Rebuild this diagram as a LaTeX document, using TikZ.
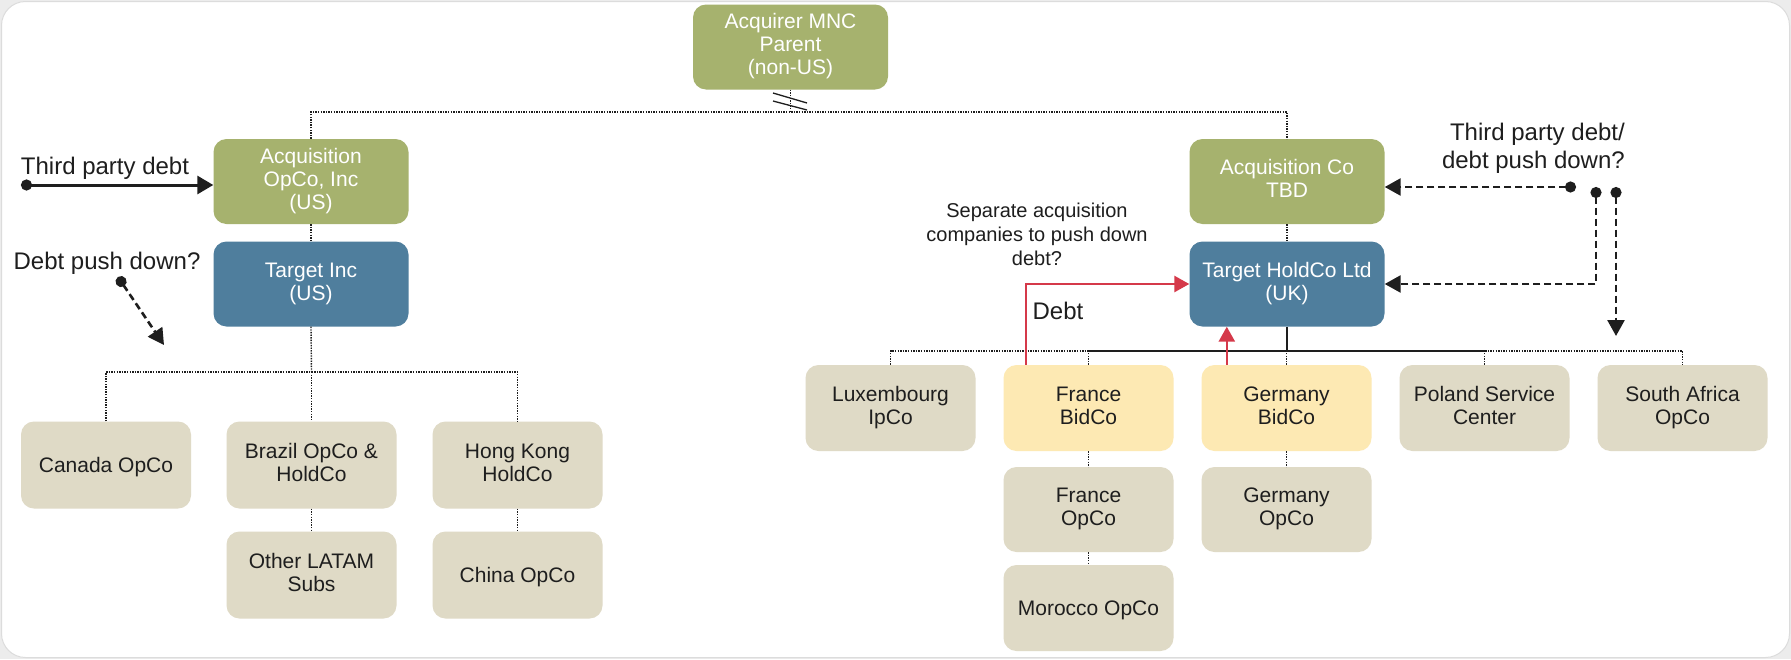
\documentclass[tikz,border=0pt]{standalone}
\usepackage{fontspec}
\setmainfont{Liberation Sans}
\usetikzlibrary{arrows.meta,calc}
\definecolor{boxgreen}{HTML}{A6B26E}
\definecolor{boxblue}{HTML}{4F7E9D}
\definecolor{boxtan}{HTML}{DFDAC6}
\definecolor{boxyellow}{HTML}{FDE9B3}
\definecolor{debtred}{HTML}{D5394A}
\definecolor{textdark}{HTML}{1E1E1E}
\definecolor{outside}{HTML}{ECECEC}
\definecolor{frameline}{HTML}{DCDCDC}
% struts that centre the capital-letter block of a node on its anchor
\newcommand{\topstrut}{\rule{0pt}{0.97em}}
\newcommand{\botstrut}{\rule[-0.25em]{0pt}{0.25em}}
\begin{document}
\begin{tikzpicture}[x=1pt,y=-1pt,
  centred/.style={execute at begin node=\topstrut, execute at end node=\botstrut},
  base/.style={rounded corners=13pt, align=center, inner sep=0pt, centred,
    font=\fontsize{21}{23}\selectfont},
  greenbox/.style={base, fill=boxgreen, text=white, minimum width=195pt, minimum height=85pt},
  bluebox/.style={base, fill=boxblue, text=white, minimum width=195pt, minimum height=85pt},
  tanbox/.style={base, fill=boxtan, text=textdark, minimum width=170pt, minimum height=87pt},
  yellowbox/.style={base, fill=boxyellow, text=textdark, minimum width=170pt, minimum height=87pt},
  link/.style={line width=1.4pt, dash pattern=on 1.4pt off 1.2pt, textdark},
  solidlink/.style={line width=2pt, textdark},
  note/.style={align=center, text=textdark, inner sep=0pt, centred,
    font=\fontsize{24}{28}\selectfont},
  debtarrow/.style={line width=2.6pt, debtred, -{Triangle[length=15pt,width=16pt]}},
  pushdown/.style={line width=2.6pt, textdark, dash pattern=on 7pt off 4pt,
    {Circle[length=11pt]}-{Triangle[length=16pt,width=17pt]}},
  thirdparty/.style={line width=3pt, textdark,
    {Circle[length=11pt]}-{Triangle[length=16pt,width=18pt]}}
]
% page and frame
\fill[outside] (0,0) rectangle (1791,659);
\draw[fill=white, draw=frameline, line width=1pt, rounded corners=24pt] (1.5,1.5) rectangle (1789.5,657.5);

% entities
\node[greenbox] (parent) at (790.5,47) {Acquirer MNC\\Parent\\(non-US)};
\node[greenbox] (acqus) at (311,181.5) {Acquisition\\OpCo, Inc\\(US)};
\node[bluebox] (targus) at (311,284) {Target Inc\\(US)};
\node[greenbox] (acqco) at (1287,181.5) {Acquisition Co\\TBD};
\node[bluebox] (targuk) at (1287,284) {Target HoldCo Ltd\\(UK)};

\node[tanbox] (canada) at (106,465) {Canada OpCo};
\node[tanbox] (brazil) at (311.5,465) {Brazil OpCo \&\\HoldCo};
\node[tanbox] (hk) at (517.5,465) {Hong Kong\\HoldCo};
\node[tanbox] (latam) at (311.5,575) {Other LATAM\\Subs};
\node[tanbox] (china) at (517.5,575) {China OpCo};

\node[tanbox, minimum height=86pt] (lux) at (890.5,408) {Luxembourg\\IpCo};
\node[yellowbox, minimum height=86pt] (frbid) at (1088.5,408) {France\\BidCo};
\node[yellowbox, minimum height=86pt] (debid) at (1286.5,408) {Germany\\BidCo};
\node[tanbox, minimum height=86pt] (poland) at (1484.5,408) {Poland Service\\Center};
\node[tanbox, minimum height=86pt] (safrica) at (1682.5,408) {South Africa\\OpCo};
\node[tanbox, minimum height=85pt] (fropco) at (1088.5,509.5) {France\\OpCo};
\node[tanbox, minimum height=85pt] (deopco) at (1286.5,509.5) {Germany\\OpCo};
\node[tanbox, minimum height=86pt] (morocco) at (1088.5,608) {Morocco OpCo};

% ownership links
\coordinate (topbus) at (790.5,112);
\coordinate (lbus) at (311.5,372);
\coordinate (rbus) at (1287,351);

\draw[link] (parent.south) -- (topbus);
\draw[link] (acqus.north) |- (topbus) -| (acqco.north);
\draw[textdark, line width=1.3pt] (773,93) -- (807,103) (773,101) -- (807,110);

\draw[link] (acqus.south) -- (targus.north);
\draw[link] (targus.south) -- (lbus);
\draw[link] (canada.north) |- (lbus) -| (hk.north);
\draw[link] (lbus) -- (brazil.north);
\draw[link] (brazil.south) -- (latam.north);
\draw[link] (hk.south) -- (china.north);

\draw[link] (acqco.south) -- (targuk.north);
\draw[solidlink] (targuk.south) -- (rbus);
\draw[link] (lux.north) |- (rbus) -| (safrica.north);
\draw[solidlink] (frbid.north |- rbus) -- (poland.north |- rbus);
\draw[link] (frbid.north) -- (frbid.north |- rbus);
\draw[link] (debid.north) -- (debid.north |- rbus);
\draw[link] (poland.north) -- (poland.north |- rbus);
\draw[link] (frbid.south) -- (fropco.north);
\draw[link] (fropco.south) -- (morocco.north);
\draw[link] (debid.south) -- (deopco.north);

% debt flows
\draw[debtarrow] ([xshift=22.5pt]frbid.north west) |- (targuk.west);
\draw[debtarrow] ([xshift=25.5pt]debid.north west) -- ([xshift=25.5pt]debid.north west |- targuk.south);

\coordinate (tpstart) at (21,185);
\draw[thirdparty] (tpstart) -- (tpstart -| acqus.west);

\coordinate (pdstart) at (118,277);
\coordinate (pdend) at (164,345);
\draw[pushdown] (pdstart) -- (pdend);

\coordinate (ra) at (1576,187);
\coordinate (rb) at (1596,187);
\coordinate (rc) at (1616,187);
\coordinate (rcend) at (1616,336);
\draw[pushdown] (ra) -- (ra -| acqco.east);
\draw[pushdown] (rb) |- (targuk.east);
\draw[pushdown] (rc) -- (rcend);

% labels
\node[note] (lbltp) at (105,166) {Third party debt};
\node[note] (lblpd) at (107,261) {Debt push down?};
\node[note, align=right, anchor=east] (lblright) at (1625,149) {Third party debt/\\debt push down?};
\node[note, font=\fontsize{20}{24}\selectfont] (lblsep) at (1037,237) {Separate acquisition\\companies to push down\\debt?};
\node[note] (lbldebt) at (1058,311) {Debt};
\end{tikzpicture}
\end{document}
